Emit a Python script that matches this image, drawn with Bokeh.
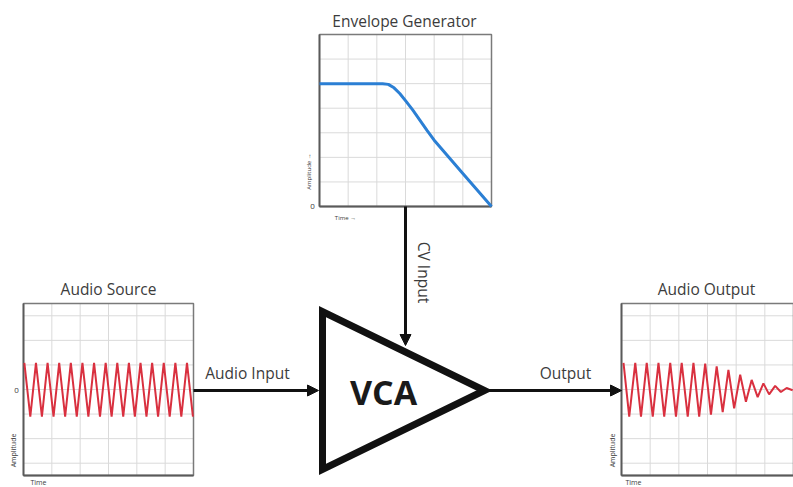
import math
from bokeh.plotting import figure
from bokeh.models import Range1d, Label, Arrow, NormalHead
from bokeh.embed import file_html
from bokeh.resources import INLINE

# ---------------- data (panel units: 6 grid columns wide) ----------------
env_time = [0.0, 1.0, 2.2, 2.4, 2.6, 2.8, 3.0, 3.25, 3.5, 3.75, 4.0, 5.0, 6.0]
env_amp = [5.0, 5.0, 5.0, 4.97, 4.83, 4.6, 4.31, 3.93, 3.52, 3.1, 2.7, 1.34, 0.0]

wave_time = [0.03, 0.24, 0.44, 0.65, 0.85, 1.06, 1.26, 1.47, 1.67, 1.88,
             2.08, 2.29, 2.49, 2.70, 2.90, 3.11, 3.31, 3.52, 3.72, 3.93,
             4.13, 4.34, 4.54, 4.75, 4.95, 5.16, 5.36, 5.57, 5.77, 5.98]
source_amp = [1.08, -1.1, 1.08, -1.1, 1.08, -1.1, 1.08, -1.1, 1.08, -1.1,
              1.08, -1.1, 1.08, -1.1, 1.08, -1.1, 1.08, -1.1, 1.08, -1.1,
              1.08, -1.1, 1.08, -1.1, 1.08, -1.1, 1.08, -1.1, 1.08, -1.1]
output_time = [0.07, 0.27, 0.48, 0.68, 0.88, 1.09, 1.29, 1.49, 1.70, 1.90,
               2.10, 2.31, 2.51, 2.71, 2.92, 3.12, 3.32, 3.53, 3.73, 3.93,
               4.14, 4.34, 4.54, 4.75, 4.95, 5.15, 5.36, 5.56, 5.76, 5.97]
output_amp = [1.08, -1.1, 1.08, -1.1, 1.08, -1.1, 1.08, -1.1, 1.08, -1.1,
              1.08, -1.1, 1.08, -1.1, 1.05, -1.02, 0.94, -0.92, 0.8, -0.77,
              0.6, -0.5, 0.39, -0.31, 0.25, -0.2, 0.15, -0.1, 0.06, -0.03]

grid_cols = [1, 2, 3, 4, 5]
env_rows = [1, 2, 3, 4, 5, 6]
audio_rows = [-3, -2, -1, 0, 1, 2, 3]

titles = ["Envelope Generator", "Audio Source", "Audio Output"]

# ---------------- layout (page pixels) ----------------
W, H = 793, 487
p = figure(width=W, height=H, output_backend="svg", toolbar_location=None,
           x_range=Range1d(0, W), y_range=Range1d(H, 0),
           x_axis_type=None, y_axis_type=None, min_border=0,
           outline_line_color=None, background_fill_color="white")

TXT = "#3c3c3c"
FONT = "Open Sans"
GRID = "#dadada"
BORDER = "#7a7a7a"

panels = {
    "env": ((319, 491, 34, 206), (0, 6, 0, 7), env_rows),
    "src": ((23, 193, 303, 475), (0, 6, -3.5, 3.5), audio_rows),
    "out": ((621, 793, 303, 475), (0, 6, -3.5, 3.5), audio_rows),
}

for name, ((l, r, t, b), (x0, x1, y0, y1), rows) in panels.items():
    sx = (x1 - x0) / (r - l)
    sy = (y1 - y0) / (b - t)
    p.extra_x_ranges[name + "_x"] = Range1d(x0 + (0 - l) * sx, x0 + (W - l) * sx)
    p.extra_y_ranges[name + "_y"] = Range1d(y0 + (b - H) * sy, y0 + (b - 0) * sy)
    kw = dict(x_range_name=name + "_x", y_range_name=name + "_y")
    p.quad(left=[x0], right=[x1], bottom=[y0], top=[y1], fill_color="white",
           line_color=None, **kw)
    p.segment(x0=grid_cols, x1=grid_cols, y0=[y0] * len(grid_cols),
              y1=[y1] * len(grid_cols), line_color=GRID, line_width=1, **kw)
    p.segment(x0=[x0] * len(rows), x1=[x1] * len(rows), y0=rows, y1=rows,
              line_color=GRID, line_width=1, **kw)
    p.quad(left=[x0], right=[x1], bottom=[y0], top=[y1], fill_color=None,
           line_color=BORDER, line_width=1.5, **kw)
    p.segment(x0=[x0, x0], y0=[y0, y0], x1=[x0, x1], y1=[y1, y0],
              line_color="#5a5a5a", line_width=1.8, **kw)

p.line(env_time, env_amp, line_color="#2b7fd4", line_width=3, line_join="round",
       x_range_name="env_x", y_range_name="env_y")
p.line(wave_time, source_amp, line_color="#d9303f", line_width=2,
       x_range_name="src_x", y_range_name="src_y")
p.line(output_time, output_amp, line_color="#d9303f", line_width=2,
       x_range_name="out_x", y_range_name="out_y")

# VCA triangle
p.patch(x=[322, 322, 484], y=[311, 469, 390], fill_color="white",
        line_color="#111111", line_width=7, line_join="miter")

def arrow(xs, ys, xe, ye):
    p.add_layout(Arrow(end=NormalHead(size=11, fill_color="#111111", line_color="#111111",
                                      line_width=1),
                       x_start=xs, y_start=ys, x_end=xe, y_end=ye,
                       line_width=3, line_color="#111111"))

arrow(193, 390, 318, 390)
arrow(487, 390, 621, 390)
arrow(405, 206, 405, 345)

def label(x, y, text, size, angle=0.0, color=TXT, style="normal", align="center"):
    p.add_layout(Label(x=x, y=y, text=text, text_font=FONT, text_font_size=size,
                       text_color=color, text_font_style=style, text_align=align,
                       text_baseline="middle", angle=angle))

label(404, 20, titles[0], "15.5px")
label(108, 288, titles[1], "15.5px")
label(706, 288, titles[2], "15.5px")

label(383, 391, "VCA", "34px", color="#1a1a1a", style="bold")
label(247, 372, "Audio Input", "15.5px")
label(565, 372, "Output", "15.5px")
label(423, 272, "CV Input", "15.5px", angle=-math.pi / 2)

# tiny axis labels
label(312, 206, "0", "8px")
label(308, 171, "Amplitude \u2192", "6px", angle=math.pi / 2)
label(345, 217, "Time \u2192", "6px")
label(16, 390, "0", "8px")
label(13, 450, "Amplitude", "7px", angle=math.pi / 2)
label(38, 482, "Time", "7px")
label(612, 450, "Amplitude", "7px", angle=math.pi / 2)
label(633, 482, "Time", "7px")

open("out.html", "w").write(file_html(p, INLINE))
